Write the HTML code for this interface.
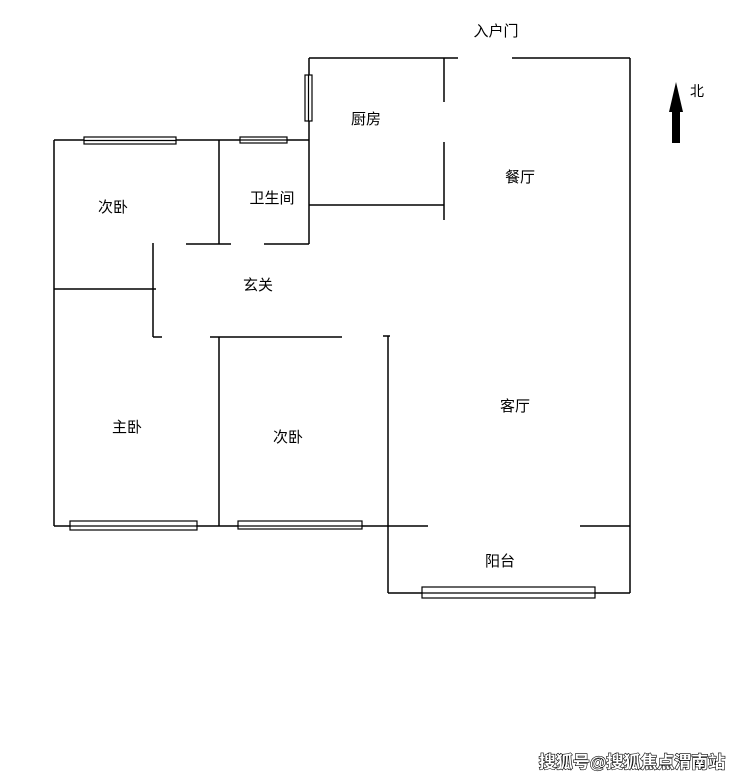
<!DOCTYPE html>
<html><head><meta charset="utf-8"><style>
html,body{margin:0;padding:0;background:#fff}
body{width:731px;height:779px;position:relative;overflow:hidden}
svg{position:absolute;left:0;top:0}
text{font-family:"Liberation Sans","Noto Sans CJK SC",sans-serif;font-size:15px;fill:#000}
</style></head><body>
<svg width="731" height="779" viewBox="0 0 731 779">
<g stroke="#000" stroke-width="1.5" fill="none">
<!-- top left wall -->
<line x1="54" y1="140" x2="309" y2="140"/>
<line x1="54" y1="140" x2="54" y2="526"/>
<line x1="219" y1="140" x2="219" y2="244"/>
<line x1="186" y1="244" x2="231" y2="244"/>
<line x1="264" y1="244" x2="309" y2="244"/>
<line x1="309" y1="58" x2="309" y2="244"/>
<line x1="309" y1="58" x2="458" y2="58"/>
<line x1="512" y1="58" x2="630" y2="58"/>
<line x1="630" y1="58" x2="630" y2="593"/>
<line x1="444" y1="58" x2="444" y2="102"/>
<line x1="444" y1="142" x2="444" y2="220"/>
<line x1="309" y1="205" x2="444" y2="205"/>
<line x1="153" y1="243" x2="153" y2="337"/>
<line x1="153" y1="337" x2="162" y2="337"/>
<line x1="54" y1="289" x2="156" y2="289"/>
<line x1="210" y1="337" x2="342" y2="337"/>
<line x1="219" y1="337" x2="219" y2="526"/>
<line x1="383" y1="336" x2="390" y2="336"/>
<line x1="388" y1="336" x2="388" y2="593"/>
<line x1="54" y1="526" x2="428" y2="526"/>
<line x1="580" y1="526" x2="630" y2="526"/>
<line x1="388" y1="593" x2="630" y2="593"/>
</g>
<g stroke="#000" stroke-width="1.2" fill="#fff">
<rect x="84" y="137" width="92" height="7"/>
<line x1="84" y1="140.5" x2="176" y2="140.5"/>
<rect x="240" y="137" width="47" height="6"/>
<line x1="240" y1="140" x2="287" y2="140"/>
<rect x="305" y="75" width="7" height="46"/>
<line x1="308.5" y1="75" x2="308.5" y2="121"/>
<rect x="70" y="521" width="127" height="9"/>
<line x1="70" y1="526" x2="197" y2="526"/>
<rect x="238" y="521" width="124" height="8"/>
<line x1="238" y1="526" x2="362" y2="526"/>
<rect x="422" y="587" width="173" height="11"/>
<line x1="422" y1="593" x2="595" y2="593"/>
</g>
<polygon points="676,82 669,112 683,112" fill="#000"/>
<rect x="672" y="110" width="8" height="33" fill="#000"/>
<text x="496" y="36" text-anchor="middle">入户门</text>
<text x="366" y="124" text-anchor="middle">厨房</text>
<text x="520" y="182" text-anchor="middle">餐厅</text>
<text x="113" y="212" text-anchor="middle">次卧</text>
<text x="272" y="203" text-anchor="middle">卫生间</text>
<text x="258" y="290" text-anchor="middle">玄关</text>
<text x="127" y="432" text-anchor="middle">主卧</text>
<text x="288" y="442" text-anchor="middle">次卧</text>
<text x="515" y="411" text-anchor="middle">客厅</text>
<text x="500" y="566" text-anchor="middle">阳台</text>
<text x="697" y="96" text-anchor="middle" style="font-size:14px">北</text>
<text x="632" y="768" text-anchor="middle" style="font-size:17px;font-weight:bold;fill:#fff;stroke:#000;stroke-width:1.2;paint-order:stroke">搜狐号@搜狐焦点渭南站</text>
</svg>
</body></html>
